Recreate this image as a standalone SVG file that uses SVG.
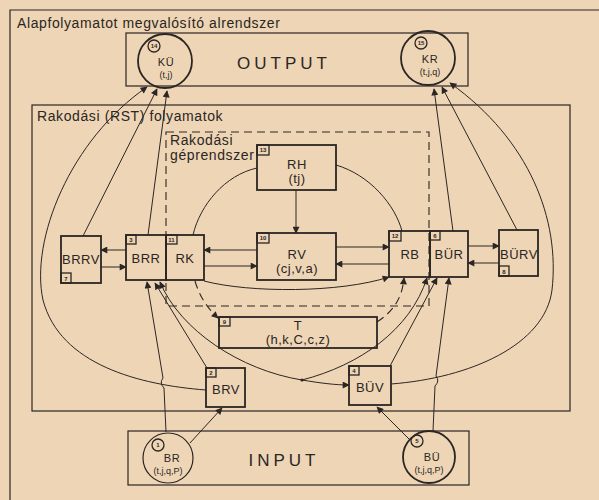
<svg xmlns="http://www.w3.org/2000/svg" width="599" height="500" viewBox="0 0 599 500">
<defs>
<marker id="ah" viewBox="0 0 10 10" refX="9" refY="5" markerWidth="8" markerHeight="7" markerUnits="userSpaceOnUse" orient="auto"><path d="M0,0 L10,5 L0,10 z" fill="#2b2623"/></marker>
<style>
.ln{fill:none;stroke:#2b2623;stroke-width:1}
.bx{fill:none;stroke:#2b2623;stroke-width:1.8}
.fr{fill:none;stroke:#2b2623;stroke-width:1.2}
.ds{fill:none;stroke:#2b2623;stroke-width:1.1;stroke-dasharray:8,5}
.nb{fill:none;stroke:#2b2623;stroke-width:1.3}
.t{font-family:"Liberation Sans","DejaVu Sans",sans-serif;fill:#2b2623;font-size:13px;text-anchor:middle;letter-spacing:0.5px}
.c1{font-family:"Liberation Sans","DejaVu Sans",sans-serif;fill:#2b2623;font-size:11px;text-anchor:middle;letter-spacing:0.5px}
.c2{font-family:"Liberation Sans","DejaVu Sans",sans-serif;fill:#2b2623;font-size:9px;text-anchor:middle}
.h{font-family:"Liberation Sans","DejaVu Sans",sans-serif;fill:#2b2623;font-size:14px;letter-spacing:0.6px}
.n{font-family:"Liberation Sans","DejaVu Sans",sans-serif;fill:#2b2623;font-size:6px;text-anchor:middle;font-weight:bold}
.big{font-family:"Liberation Sans","DejaVu Sans",sans-serif;fill:#2b2623;font-size:17px;text-anchor:middle;letter-spacing:4px}
.a{marker-end:url(#ah)}
</style>
</defs>
<rect width="599" height="500" fill="#eed5b6"/>

<g id="frames">
<path class="fr" d="M10,500 L10,10 L599,10"/>
<text class="h" x="17" y="28">Alapfolyamatot  megvalósító  alrendszer</text>
<rect class="fr" x="32" y="105" width="538" height="306"/>
<text class="h" x="37" y="121" letter-spacing="1">Rakodási  (RST)  folyamatok</text>
<rect class="ds" x="166" y="132" width="263" height="174"/>
<text class="h" x="170" y="145" font-size="13">Rakodási</text>
<text class="h" x="170" y="160" font-size="13">géprendszer</text>
</g>

<g id="output">
<rect class="fr" x="126" y="33" width="342" height="53"/>
<text class="big" x="284" y="69">OUTPUT</text>
</g>
<g id="input">
<rect class="fr" x="128" y="431" width="341" height="54"/>
<text class="big" x="284" y="466">INPUT</text>
</g>

<g id="KU">
<circle class="bx" cx="165" cy="61" r="27"/>
<circle class="nb" cx="154" cy="46" r="6"/><text class="n" x="154" y="48">14</text>
<text class="c1" x="166" y="66">KÜ</text>
<text class="c2" x="166" y="78">(t,j)</text>
</g>
<g id="KR">
<circle class="bx" cx="428" cy="58" r="27"/>
<circle class="nb" cx="421" cy="43" r="6"/><text class="n" x="421" y="45">15</text>
<text class="c1" x="430" y="63">KR</text>
<text class="c2" x="430" y="75">(t,j,q)</text>
</g>
<g id="BR">
<circle class="fr" cx="168" cy="458" r="25"/>
<circle class="nb" cx="158" cy="445" r="6"/><text class="n" x="158" y="447">1</text>
<text class="c1" x="172" y="462">BR</text>
<text class="c2" x="168" y="474">(t,j,q,P)</text>
</g>
<g id="BU">
<circle class="bx" cx="429" cy="457" r="26"/>
<circle class="nb" cx="417" cy="441" r="6"/><text class="n" x="417" y="443">5</text>
<text class="c1" x="432" y="461">BÜ</text>
<text class="c2" x="429" y="473">(t,j,q,P)</text>
</g>

<g id="BRRV">
<rect class="bx" x="61" y="236" width="40" height="47"/>
<rect class="nb" x="61" y="273" width="10" height="10"/><text class="n" x="66" y="281">7</text>
<text class="t" x="81" y="264" letter-spacing="-0.5">BRRV</text>
</g>
<g id="BRR">
<rect class="bx" x="126" y="235" width="40" height="45"/>
<rect class="nb" x="126" y="235" width="10" height="9"/><text class="n" x="131" y="242">3</text>
<text class="t" x="146" y="263">BRR</text>
</g>
<g id="RK">
<rect class="bx" x="166" y="235" width="38" height="45"/>
<rect class="nb" x="166" y="235" width="11" height="9"/><text class="n" x="171.5" y="242">11</text>
<text class="t" x="185" y="263">RK</text>
</g>
<g id="RH">
<rect class="bx" x="257" y="145" width="79" height="45"/>
<rect class="nb" x="257" y="145" width="12" height="10"/><text class="n" x="263" y="152">13</text>
<text class="t" x="297" y="169" letter-spacing="2">RH</text>
<text class="t" x="297" y="183" letter-spacing="1">(tj)</text>
</g>
<g id="RV">
<rect class="bx" x="257" y="233" width="79" height="47"/>
<rect class="nb" x="257" y="233" width="12" height="10"/><text class="n" x="263" y="240">10</text>
<text class="t" x="297" y="259" letter-spacing="2">RV</text>
<text class="t" x="297" y="273" letter-spacing="1">(cj,v,a)</text>
</g>
<g id="RB">
<rect class="bx" x="389" y="231" width="41" height="46"/>
<rect class="nb" x="389" y="231" width="12" height="10"/><text class="n" x="395" y="238">12</text>
<text class="t" x="410" y="259" letter-spacing="2">RB</text>
</g>
<g id="BUR">
<rect class="bx" x="430" y="231" width="38" height="46"/>
<rect class="nb" x="430" y="231" width="10" height="9"/><text class="n" x="435" y="238">6</text>
<text class="t" x="449" y="259">BÜR</text>
</g>
<g id="BURV">
<rect class="bx" x="499" y="230" width="39" height="46"/>
<rect class="nb" x="499" y="266" width="10" height="10"/><text class="n" x="504" y="274">8</text>
<text class="t" x="519" y="259" letter-spacing="-0.5">BÜRV</text>
</g>
<g id="T">
<rect class="bx" x="219" y="317" width="158" height="31"/>
<rect class="nb" x="219" y="317" width="11" height="9"/><text class="n" x="224.5" y="324">9</text>
<text class="t" x="298" y="330" font-size="12">T</text>
<text class="t" x="298" y="344" font-size="12" letter-spacing="1.5">(h,k,C,c,z)</text>
</g>
<g id="BRV">
<rect class="bx" x="206" y="368" width="39" height="39"/>
<rect class="nb" x="206" y="368" width="10" height="9"/><text class="n" x="211" y="375">2</text>
<text class="t" x="226" y="394">BRV</text>
</g>
<g id="BUV">
<rect class="bx" x="349" y="366" width="42" height="39"/>
<rect class="nb" x="349" y="366" width="10" height="9"/><text class="n" x="354" y="373">4</text>
<text class="t" x="370" y="392">BÜV</text>
</g>

<g id="connectors">
<path class="ln a" d="M126,250 L101,250"/>
<path class="ln a" d="M101,267 L126,267"/>
<path class="ln a" d="M257,250 L204,250"/>
<path class="ln a" d="M204,266 L257,266"/>
<path class="ln a" d="M336,247 L389,247"/>
<path class="ln a" d="M389,264 L336,264"/>
<path class="ln a" d="M468,246 L499,246"/>
<path class="ln a" d="M499,263 L468,263"/>
<path class="ln a" d="M296,190 L296,233"/>
<path class="ln" d="M257,168 C225,175 200,205 193,235"/>
<path class="ln" d="M336,165 C370,175 395,205 402,231"/>
<path class="ln a" d="M204,281 C250,293 340,293 389,277"/>
<path class="ds a" d="M195,281 C199,295 207,308 218,318"/>
<path class="ds a" d="M377,322 C392,312 402,300 404,278"/>
<path class="ln a" d="M83,236 L157,89"/>
<path class="ln a" d="M148,235 L167,91"/>
<path class="ln a" d="M453,231 L434,89"/>
<path class="ln a" d="M517,230 L442,87"/>
<path class="ln a" d="M206,390 C140,385 60,365 43,300 C30,240 70,140 147,87"/>
<path class="ln a" d="M391,384 C470,378 545,345 552,290 C560,220 530,140 450,83"/>
<path class="ln a" d="M166,432 L164,388 Q159,383 163,378 L147,282"/>
<path class="ln a" d="M190,443 L222,408"/>
<path class="ln a" d="M207,368 L155,283"/>
<path class="ln a" d="M302,380 C240,370 180,330 160,282"/>
<path class="ln a" d="M302,380 C320,383 335,385 349,385"/>
<path class="ln a" d="M302,380 C360,365 410,330 427,278"/>
<circle cx="302" cy="380" r="1.6" fill="#2b2623"/>
<path class="ln a" d="M410,440 L377,407"/>
<path class="ln a" d="M433,431 L435,386 Q440,381 436,376 L449,278"/>
<path class="ln a" d="M390,366 L437,278"/>
</g>
</svg>
